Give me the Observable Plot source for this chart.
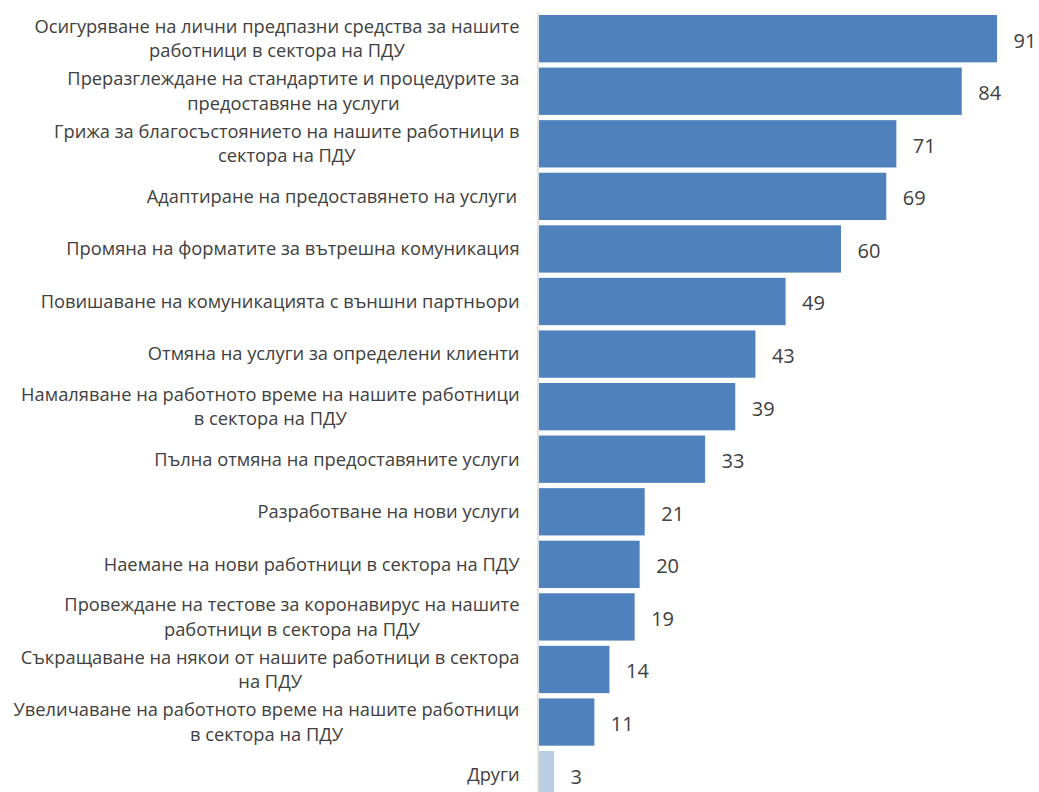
<!DOCTYPE html>
<html><head><meta charset="utf-8">
<script src="https://cdn.jsdelivr.net/npm/d3@7"></script>
<script src="https://cdn.jsdelivr.net/npm/@observablehq/plot@0.6"></script>
<style>html,body{margin:0;padding:0;background:#fff;overflow:hidden}</style>
</head><body><div id="chart"></div>
<script>
const categories = [
  "Осигуряване на лични предпазни средства за нашите\nработници в сектора на ПДУ",
  "Преразглеждане на стандартите и процедурите за\nпредоставяне на услуги",
  "Грижа за благосъстоянието на нашите работници в\nсектора на ПДУ",
  "Адаптиране на предоставянето на услуги ",
  "Промяна на форматите за вътрешна комуникация",
  "Повишаване на комуникацията с външни партньори",
  "Отмяна на услуги за определени клиенти",
  "Намаляване на работното време на нашите работници\nв сектора на ПДУ",
  "Пълна отмяна на предоставяните услуги",
  "Разработване на нови услуги",
  "Наемане на нови работници в сектора на ПДУ",
  "Провеждане на тестове за коронавирус на нашите\nработници в сектора на ПДУ",
  "Съкращаване на някои от нашите работници в сектора\nна ПДУ",
  "Увеличаване на работното време на нашите работници\nв сектора на ПДУ",
  "Други"
];
const values = [91, 84, 71, 69, 60, 49, 43, 39, 33, 21, 20, 19, 14, 11, 3];
const groups = ["main","main","main","main","main","main","main","main","main","main","main","main","main","main","other"];

const data = categories.map((c, i) => ({cat: c, value: values[i], group: groups[i]}));

const labelFont = "'Open Sans'";
const labelSize = 18.3;
const lineGap = 24.5;
const ctx = document.createElement("canvas").getContext("2d");
ctx.font = `${labelSize}px ${labelFont}`;

const labelMarks = [];
data.forEach(d => {
  const lines = d.cat.split("\n");
  const maxW = Math.max(...lines.map(l => ctx.measureText(l.trimEnd()).width));
  lines.forEach((line, i) => {
    labelMarks.push(Plot.text([d], {
      x: 0, y: "cat", text: () => line,
      textAnchor: "middle",
      dx: -20 - maxW / 2,
      dy: (i - (lines.length - 1) / 2) * lineGap,
      fontSize: labelSize, fontFamily: labelFont, fill: "#404040"
    }));
  });
});

const chart = Plot.plot({
  width: 1039,
  height: 820,
  marginTop: 12.4,
  marginBottom: 19.1,
  marginLeft: 539,
  marginRight: 0,
  style: {fontFamily: "'Open Sans', sans-serif", background: "#fff"},
  x: {domain: [0, 100], range: [539, 1042.3], axis: null},
  y: {domain: categories, paddingInner: 0.1, paddingOuter: 0.05, round: false, axis: null},
  color: {domain: ["main", "other"], range: ["#4F81BD", "#B9CDE5"]},
  marks: [
    Plot.barX(data, {x: "value", y: "cat", fill: "group"}),
    Plot.ruleX([0], {stroke: "#d9d9d9", strokeWidth: 1.5, dx: -1.5}),
    ...labelMarks,
    Plot.text(data, {x: "value", y: "cat", text: d => String(d.value), textAnchor: "start", dx: 16, dy: 2, fontSize: 20, fill: "#404040"})
  ]
});
document.getElementById("chart").appendChild(chart);
</script>
</body></html>
